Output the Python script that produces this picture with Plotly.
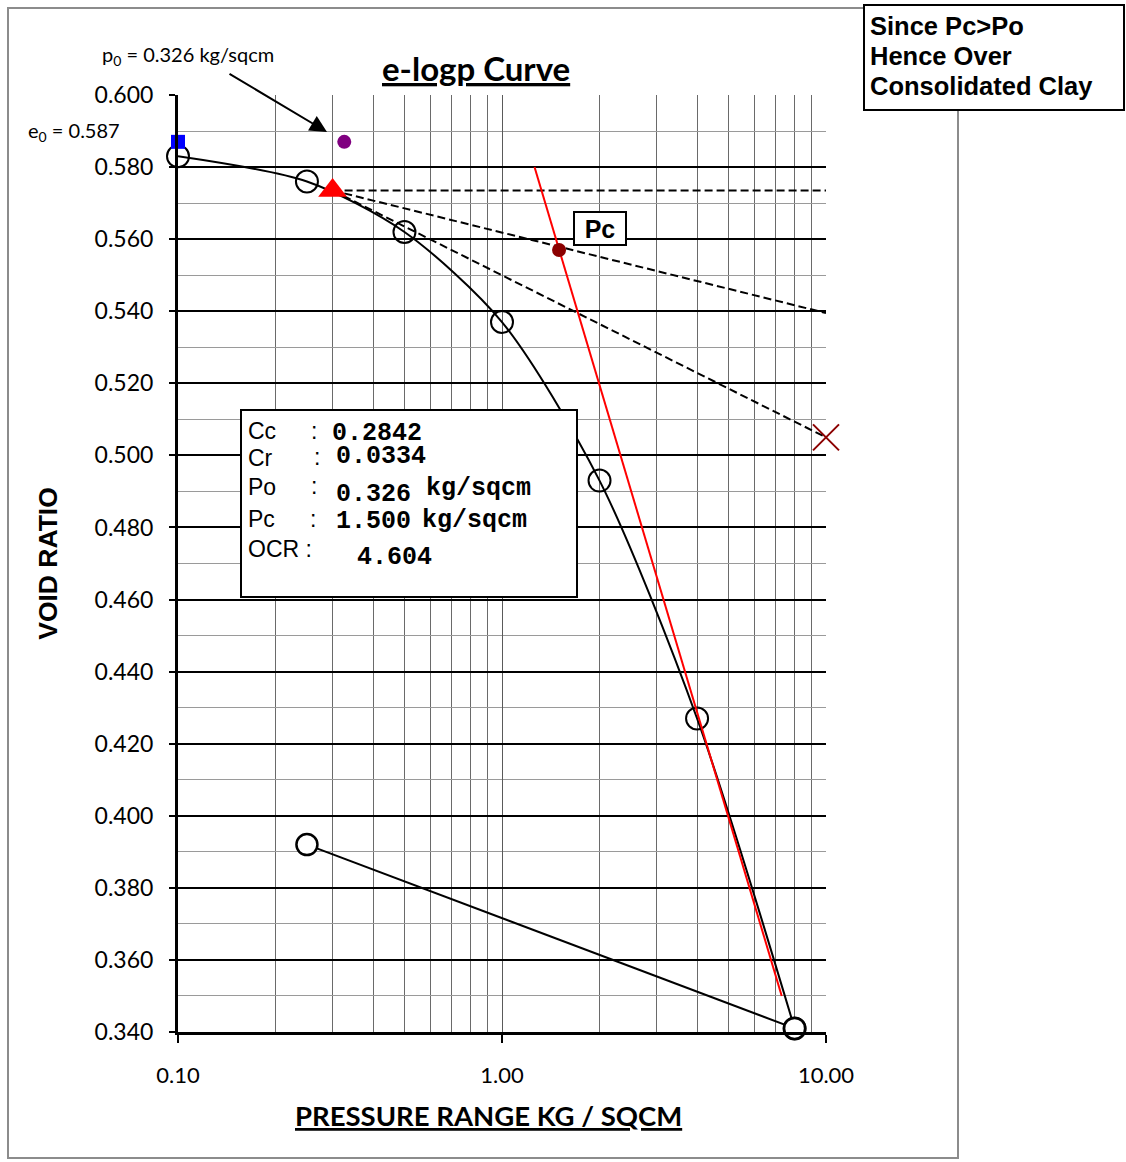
import plotly.graph_objects as go

# Oedometer readings: loading branch (pressure kg/sqcm, void ratio)
load_p = [0.1, 0.25, 0.5, 1.0, 2.0, 4.0, 8.0]
load_e = [0.583, 0.576, 0.562, 0.537, 0.493, 0.427, 0.341]

# Unloading branch
unload_p = [8.0, 0.25]
unload_e = [0.341, 0.392]

# Initial void ratio and overburden pressure
e0_p, e0_e = [0.1], [0.587]
p0_p, p0_e = [0.326], [0.587]

# Casagrande construction: point of maximum curvature
mc_p, mc_e = [0.3], [0.5735]
horiz_p, horiz_e = [0.3, 10.0], [0.5735, 0.5735]
bisect_p, bisect_e = [0.3, 10.0], [0.5735, 0.5395]
tangent_p, tangent_e = [0.3, 10.0], [0.5735, 0.505]

# Virgin compression line and preconsolidation pressure
vcl_p, vcl_e = [1.26, 7.3], [0.580, 0.350]
pc_p, pc_e = [1.5], [0.557]

# Summary values
summary_labels = ["Cc", "Cr", "Po", "Pc", "OCR :"]
summary_values = ["0.2842", "0.0334", "0.326", "1.500", "4.604"]
summary_units = ["", "", "kg/sqcm", "kg/sqcm", ""]
conclusion_lines = ["Since Pc>Po", "Hence Over", "Consolidated Clay"]

x_tickvals = [0.1, 1.0, 10.0]
x_ticktext = ["0.10", "1.00", "10.00"]
x_minor = [0.2, 0.3, 0.4, 0.5, 0.6, 0.7, 0.8, 0.9, 2, 3, 4, 5, 6, 7, 8, 9]
y_tickvals = [0.34, 0.36, 0.38, 0.40, 0.42, 0.44, 0.46, 0.48, 0.50, 0.52,
              0.54, 0.56, 0.58, 0.60]

W, H = 1126, 1162
L, R, T, B = 178, 826, 95, 1032

CALIBRI = "Lato"
ARIAL = "Liberation Sans"
COURIER = "Liberation Mono"


def px(xp, yp):
    """Pixel position -> paper coordinates."""
    return (xp - L) / (R - L), (B - yp) / (B - T)


fig = go.Figure()

dash = "8px,4px"
for xs, ys in [(horiz_p, horiz_e), (bisect_p, bisect_e), (tangent_p, tangent_e)]:
    fig.add_trace(go.Scatter(x=xs, y=ys, mode="lines",
                             line=dict(color="black", width=2, dash=dash),
                             hoverinfo="skip"))

fig.add_trace(go.Scatter(x=load_p, y=load_e, mode="lines+markers",
                         line=dict(color="black", width=2, shape="spline", smoothing=0.8),
                         marker=dict(symbol="circle-open", size=22, color="black",
                                     line=dict(width=2)),
                         cliponaxis=False))

fig.add_trace(go.Scatter(x=unload_p, y=unload_e, mode="lines+markers",
                         line=dict(color="black", width=2),
                         marker=dict(symbol="circle", size=21, color="white",
                                     line=dict(width=2.5, color="black")),
                         cliponaxis=False))

fig.add_trace(go.Scatter(x=vcl_p, y=vcl_e, mode="lines",
                         line=dict(color="red", width=2)))

fig.add_trace(go.Scatter(x=e0_p, y=e0_e, mode="markers",
                         marker=dict(symbol="square", size=14, color="blue"),
                         cliponaxis=False))
fig.add_trace(go.Scatter(x=p0_p, y=p0_e, mode="markers",
                         marker=dict(symbol="circle", size=14, color="purple"),
                         cliponaxis=False))
fig.add_trace(go.Scatter(x=mc_p, y=mc_e, mode="markers",
                         marker=dict(symbol="triangle-up", size=25, color="red"),
                         cliponaxis=False))
fig.add_trace(go.Scatter(x=pc_p, y=pc_e, mode="markers",
                         marker=dict(symbol="circle", size=14, color="#8b0000"),
                         cliponaxis=False))
fig.add_trace(go.Scatter(x=[tangent_p[-1]], y=[tangent_e[-1]], mode="markers",
                         marker=dict(symbol="x-thin-open", size=26, color="#8b0000",
                                     line=dict(width=2, color="#8b0000")),
                         cliponaxis=False))

shapes = []
# outer chart frame
x0, y0 = px(8, 8)
x1, y1 = px(958, 1158)
shapes.append(dict(type="rect", xref="paper", yref="paper", x0=x0, y0=y0, x1=x1, y1=y1,
                   line=dict(color="#8c8c8c", width=2), layer="below"))
# summary box
x0, y0 = px(241, 410)
x1, y1 = px(577, 597)
shapes.append(dict(type="rect", xref="paper", yref="paper", x0=x0, y0=y0, x1=x1, y1=y1,
                   line=dict(color="black", width=2), fillcolor="white", layer="above"))
# conclusion box
x0, y0 = px(864, 5)
x1, y1 = px(1124, 110)
shapes.append(dict(type="rect", xref="paper", yref="paper", x0=x0, y0=y0, x1=x1, y1=y1,
                   line=dict(color="black", width=2), fillcolor="white", layer="above"))

annotations = []


def text(xp, yp, s, size, family, anchor="left", color="black"):
    ax_, ay_ = px(xp, yp)
    annotations.append(dict(xref="paper", yref="paper", x=ax_, y=ay_, text=s,
                            showarrow=False, xanchor=anchor, yanchor="middle",
                            borderpad=0,
                            font=dict(size=size, family=family, color=color)))


# title
text(476, 68, "<b><u>e-logp Curve</u></b>", 33, CALIBRI, "center")
# x axis title
text(488, 1115, "<b><u>PRESSURE RANGE KG / SQCM</u></b>", 27.5, CALIBRI, "center")
# p0 / e0 notes
text(188, 55, "p<sub>0</sub> = 0.326 kg/sqcm", 20, CALIBRI, "center")
text(74, 131, "e<sub>0</sub> = 0.587", 20, CALIBRI, "center")
hx, hy = px(327, 132)
annotations.append(dict(xref="paper", yref="paper", x=hx, y=hy, ax=-99, ay=-59,
                        text="", showarrow=True, arrowhead=2, arrowsize=1.7,
                        arrowwidth=2, arrowcolor="black", standoff=0))

# summary box contents
label_y = [431, 458, 487, 519, 549]
colon_pos = [(313, 431), (316, 457), (313, 486), (312, 519)]
value_pos = [(333, 433), (337, 456), (337, 494), (337, 521), (358, 557)]
unit_pos = [None, None, (427, 488), (423, 520), None]
for i, lab in enumerate(summary_labels):
    text(247, label_y[i], lab, 23, ARIAL)
    if i < len(colon_pos):
        text(colon_pos[i][0] - 3, colon_pos[i][1], ":", 23, ARIAL)
    text(value_pos[i][0] - 2, value_pos[i][1], "<b>" + summary_values[i] + "</b>", 25, COURIER)
    if unit_pos[i]:
        text(unit_pos[i][0] - 2, unit_pos[i][1], "<b>" + summary_units[i] + "</b>", 25, COURIER)

# Pc label
pcx, pcy = px(600, 228)
annotations.append(dict(xref="paper", yref="paper", x=pcx, y=pcy, text="<b>Pc</b>",
                        showarrow=False, xanchor="center", yanchor="middle",
                        width=48, height=29,
                        font=dict(size=25, family=ARIAL, color="black"),
                        bgcolor="white", bordercolor="black", borderwidth=2,
                        borderpad=1))

# conclusion
for yp, line in zip([26, 56, 86], conclusion_lines):
    text(869, yp, "<b>" + line + "</b>", 25.5, ARIAL)

fig.update_layout(
    width=W, height=H,
    margin=dict(l=L, r=W - R, t=T, b=H - B, pad=0),
    paper_bgcolor="white", plot_bgcolor="white",
    showlegend=False,
    shapes=shapes, annotations=annotations,
    font=dict(family=CALIBRI, color="black"),
)

fig.update_xaxes(
    type="log", range=[-1, 1],
    tickmode="array", tickvals=x_tickvals, ticktext=x_ticktext,
    ticks="outside", ticklen=8, tickwidth=2, tickcolor="black",
    tickfont=dict(size=22, family=CALIBRI, color="black"),
    ticklabelstandoff=14,
    showgrid=True, gridcolor="#5a5a5a", gridwidth=1,
    minor=dict(tickvals=x_minor, showgrid=True, gridcolor="#6a6a6a", gridwidth=1, ticks=""),
    showline=True, linecolor="black", linewidth=3,
    zeroline=False,
)

fig.update_yaxes(
    range=[0.34, 0.60],
    tickmode="array", tickvals=y_tickvals, tickformat=".3f",
    ticks="outside", ticklen=6, tickwidth=1.5, tickcolor="black",
    tickfont=dict(size=23, family=CALIBRI, color="black"),
    ticklabelstandoff=11,
    showgrid=True, gridcolor="black", gridwidth=1.5,
    minor=dict(dtick=0.01, tick0=0.34, showgrid=True, gridcolor="#9a9a9a", gridwidth=1, ticks=""),
    showline=True, linecolor="black", linewidth=3,
    zeroline=False,
    title=dict(text="<b>VOID RATIO</b>",
               font=dict(size=26.5, family=ARIAL, color="black"), standoff=30),
)

fig.write_html("out.html")
